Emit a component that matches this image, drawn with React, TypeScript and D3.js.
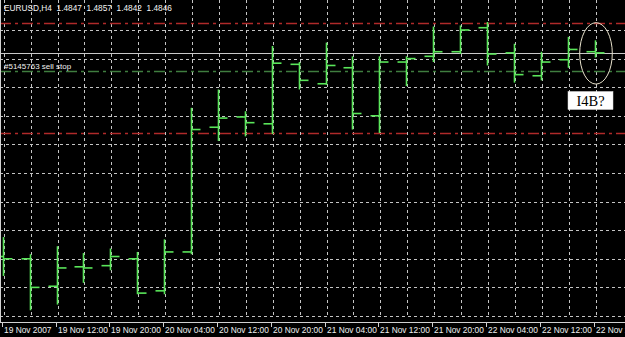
import React from "react";
import * as d3 from "d3";

const W = 625;
const H = 337;

const symbolTitle = "EURUSD,H4  1.4847  1.4857  1.4842  1.4846";
const orderLabel = "#5145763 sell stop";
const noteLabel = "I4B?";

const opens = [1.4668, 1.4666, 1.4642, 1.4659, 1.4660, 1.4666, 1.4638, 1.4672, 1.4781, 1.4790, 1.4784, 1.4836, 1.4819, 1.4833, 1.4791, 1.4838, 1.4843, 1.4847, 1.4868, 1.4846, 1.4826, 1.4840, 1.4847];
const highs = [1.4685, 1.4670, 1.4677, 1.4671, 1.4675, 1.4672, 1.4683, 1.4798, 1.4814, 1.4795, 1.4852, 1.4838, 1.4855, 1.4843, 1.4843, 1.4843, 1.4869, 1.4870, 1.4873, 1.4854, 1.4847, 1.4860, 1.4857];
const lows = [1.4651, 1.4621, 1.4626, 1.4645, 1.4656, 1.4635, 1.4635, 1.4670, 1.4769, 1.4773, 1.4775, 1.4814, 1.4818, 1.4779, 1.4776, 1.4817, 1.4838, 1.4845, 1.4835, 1.4820, 1.4822, 1.4833, 1.4842];
const closes = [1.4666, 1.4641, 1.4658, 1.4658, 1.4668, 1.4636, 1.4672, 1.4779, 1.4789, 1.4785, 1.4837, 1.4822, 1.4835, 1.4793, 1.4838, 1.4841, 1.4847, 1.4866, 1.4845, 1.4827, 1.4838, 1.4849, 1.4846];

const timeLabels = [
  "19 Nov 2007", "19 Nov 12:00", "19 Nov 20:00", "20 Nov 04:00", "20 Nov 12:00", "20 Nov 20:00",
  "21 Nov 04:00", "21 Nov 12:00", "21 Nov 20:00", "22 Nov 04:00", "22 Nov 12:00", "22 Nov 20:00",
];
const labelBarIndex = [0, 2, 4, 6, 8, 10, 12, 14, 16, 18, 20, 22];

const stopLevels = [1.4872, 1.4776];
const sellStopLevel = 1.4830;
const gridStep = 0.0025;
const priceMin = 1.4616;
const priceMax = 1.4866;

export default function App() {
  const n = closes.length;
  const x = d3.scaleLinear().domain([0, n - 1]).range([2.7, 594.5]);
  const y = d3.scaleLinear().domain([priceMin, priceMax]).range([316, 30]);
  const gridPrices = d3.range(0, 11).map((k) => priceMin + k * gridStep);
  const bid = closes[n - 1];
  const bx = (i: number) => Math.round(x(i)) + 0.5;
  const by = (p: number) => Math.round(y(p)) + 0.5;
  const green = "#5ae65a";
  const font = "'Liberation Sans', Arial, sans-serif";
  const lastX = x(n - 1);

  return (
    <svg width={W} height={H} style={{ position: "fixed", left: 0, top: 0, background: "#000" }}>
      <rect x={0} y={0} width={W} height={H} fill="#000" />
      {d3.range(0, n).map((i) => (
        <line key={"vg" + i} x1={bx(i) + 1} x2={bx(i) + 1} y1={0} y2={317} stroke="#c4c4c4" strokeWidth={1} strokeDasharray="3,3" shapeRendering="crispEdges" />
      ))}
      {gridPrices.map((p, k) => (
        <line key={"hg" + k} x1={0} x2={W} y1={by(p)} y2={by(p)} stroke="#c4c4c4" strokeWidth={1} strokeDasharray="3,3" shapeRendering="crispEdges" />
      ))}
      {stopLevels.map((p, k) => (
        <line key={"sl" + k} x1={0} x2={W} y1={by(p)} y2={by(p)} stroke="#b02a2a" strokeWidth={1.3} strokeDasharray="11,4,3,4" />
      ))}
      <line x1={0} x2={W} y1={by(sellStopLevel)} y2={by(sellStopLevel)} stroke="#3f7d3f" strokeWidth={1.3} strokeDasharray="11,4,3,4" />
      <line x1={0} x2={W} y1={by(bid)} y2={by(bid)} stroke="#c8c8c8" strokeWidth={1} shapeRendering="crispEdges" />
      {closes.map((c, i) => (
        <g key={"b" + i} stroke={green} strokeWidth={1.6}>
          <line x1={bx(i)} x2={bx(i)} y1={y(highs[i])} y2={y(lows[i])} />
          <line x1={bx(i) - 9} x2={bx(i)} y1={y(opens[i])} y2={y(opens[i])} />
          <line x1={bx(i)} x2={bx(i) + 9} y1={y(c)} y2={y(c)} />
        </g>
      ))}
      <line x1={0.5} x2={0.5} y1={0} y2={322} stroke="#d0d0d0" strokeWidth={1} />
      <line x1={0} x2={W} y1={322.5} y2={322.5} stroke="#d0d0d0" strokeWidth={1} />
      {labelBarIndex.map((bi, k) => (
        <g key={"t" + k}>
          <line x1={bx(bi) - 1} x2={bx(bi) - 1} y1={322} y2={327} stroke="#d0d0d0" strokeWidth={1} />
          <text x={bx(bi) + 0.5} y={332.5} fill="#f0f0f0" fontSize={8.4} fontFamily={font}>{timeLabels[k]}</text>
        </g>
      ))}
      <text x={4} y={11} fill="#f4f4f4" fontSize={8.3} fontFamily={font} style={{ whiteSpace: "pre" }}>{symbolTitle}</text>
      <text x={4} y={69} fill="#f0f0f0" fontSize={8} fontFamily={font}>{orderLabel}</text>
      <ellipse cx={lastX + 1.5} cy={y(bid) + 0.5} rx={16.3} ry={30.7} fill="none" stroke="#e8e2cc" strokeWidth={1} />
      <rect x={568} y={91.5} width={45} height={18} fill="#fff" stroke="#ddd" strokeWidth={0.5} />
      <text x={590.5} y={105.5} textAnchor="middle" fill="#000" fontSize={14.5} fontFamily="'Liberation Serif', 'Times New Roman', serif">{noteLabel}</text>
    </svg>
  );
}
